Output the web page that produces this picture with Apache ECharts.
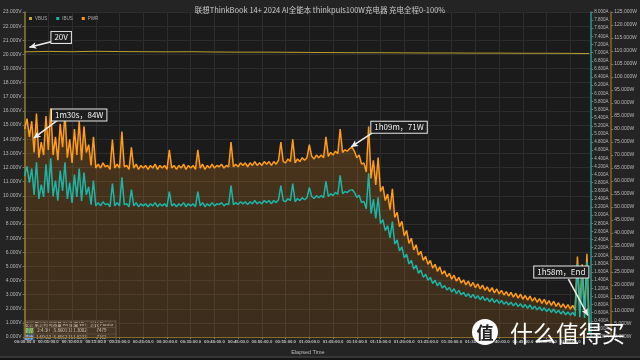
<!DOCTYPE html>
<html><head><meta charset="utf-8">
<script src="https://cdn.jsdelivr.net/npm/echarts@6/dist/echarts.min.js"></script>
<style>html,body{margin:0;padding:0;background:#232323}#c{width:640px;height:360px}</style>
</head><body><div id="c"></div><script>
// sampling step of the arrays below, in minutes
const STEP_MIN = 0.5;

const titleText = '联想ThinkBook 14+ 2024 AI全能本 thinkpuls100W充电器 充电全程0-100%';
const seriesNames = ['VBUS', 'IBUS', 'PWR'];

// PWR (W), one value every 0.5 min from 00:00
const pwrW = [
  80, 84, 77, 83, 71, 86, 69, 75, 70, 85,
  72, 88, 70, 77, 68, 82, 73, 86, 69, 76,
  67, 80, 70, 83, 68, 81, 71, 74, 66, 77,
  65, 66.5, 65, 67, 65.5, 66, 64.5, 76, 65, 66.5,
  65, 79, 65.5, 66, 64.5, 73, 65, 66.5, 64.5, 66,
  65, 66, 64.5, 66, 65, 66.5, 64.5, 66, 65, 66,
  64.5, 72, 65, 66, 64.5, 66, 65, 66.5, 64.5, 66,
  65, 66, 64.5, 72, 65, 66.5, 64.5, 66, 65, 66.5,
  65, 66, 65.5, 66.5, 65, 66, 65.5, 75, 65.5, 66.5,
  65.5, 67, 66, 67, 65.5, 67, 66, 67.5, 66, 67,
  66, 67.5, 66.5, 67.5, 66, 67.5, 66.5, 68, 75, 67.5,
  67, 68.5, 67.5, 76, 67, 68.5, 67.5, 69, 68, 69,
  74, 69.5, 68.5, 70, 69, 70, 69, 77, 69.5, 71,
  70, 71.5, 70.5, 80, 71, 72, 71.5, 72.5, 73, 71.5,
  69, 70, 66.5, 67, 63.5, 81, 61, 68, 58.5, 69,
  56, 58, 52.5, 55, 49, 57, 46, 48, 42.5, 44.5,
  39, 41, 36, 38, 33.5, 35.5, 31.5, 33, 29.5, 31,
  28, 29.5, 26.5, 28, 25.3, 27, 24.2, 25.5, 23.2, 24.5,
  22.3, 23.8, 21.5, 23, 20.8, 22, 20.1, 21.5, 19.5, 21,
  19, 20.5, 18.5, 20, 18, 19.3, 17.5, 19, 17, 18.5,
  16.6, 18, 16.2, 17.5, 15.8, 17.2, 15.4, 16.8, 15, 16.5,
  14.6, 16, 14.2, 15.8, 13.8, 15.2, 13.4, 14.8, 13, 14.5,
  12.6, 14, 12.2, 13.8, 11.8, 13.2, 11.4, 12.8, 11.1, 12.5,
  10.8, 12.2, 10.5, 31, 9.8, 28, 9.5, 32, 2
];

// IBUS (A), one value every 0.5 min from 00:00
const ibusA = [
  3.96, 4.20, 3.80, 4.15, 3.50, 4.30, 3.40, 3.75, 3.45, 4.25,
  3.55, 4.40, 3.46, 3.85, 3.36, 4.10, 3.60, 4.30, 3.40, 3.80,
  3.30, 4.00, 3.45, 4.15, 3.35, 4.05, 3.50, 3.70, 3.26, 3.85,
  3.23, 3.31, 3.23, 3.33, 3.26, 3.28, 3.21, 3.78, 3.23, 3.31,
  3.23, 3.93, 3.26, 3.28, 3.21, 3.63, 3.23, 3.31, 3.21, 3.28,
  3.23, 3.28, 3.21, 3.28, 3.23, 3.31, 3.21, 3.28, 3.23, 3.28,
  3.21, 3.58, 3.23, 3.28, 3.21, 3.28, 3.23, 3.31, 3.21, 3.28,
  3.23, 3.28, 3.21, 3.58, 3.23, 3.31, 3.21, 3.28, 3.23, 3.31,
  3.23, 3.28, 3.26, 3.31, 3.23, 3.28, 3.26, 3.73, 3.26, 3.31,
  3.26, 3.33, 3.28, 3.33, 3.26, 3.33, 3.28, 3.36, 3.28, 3.33,
  3.28, 3.36, 3.31, 3.36, 3.28, 3.36, 3.31, 3.38, 3.73, 3.36,
  3.33, 3.41, 3.36, 3.78, 3.33, 3.41, 3.36, 3.43, 3.38, 3.43,
  3.68, 3.46, 3.41, 3.48, 3.43, 3.48, 3.43, 3.83, 3.46, 3.53,
  3.48, 3.56, 3.51, 3.98, 3.53, 3.58, 3.56, 3.61, 3.63, 3.56,
  3.44, 3.49, 3.31, 3.34, 3.16, 4.03, 3.04, 3.39, 2.92, 3.44,
  2.79, 2.89, 2.62, 2.74, 2.44, 2.84, 2.29, 2.39, 2.12, 2.22,
  1.95, 2.04, 1.80, 1.89, 1.67, 1.77, 1.57, 1.65, 1.47, 1.55,
  1.40, 1.47, 1.32, 1.40, 1.26, 1.35, 1.21, 1.27, 1.16, 1.22,
  1.11, 1.19, 1.07, 1.15, 1.04, 1.10, 1.00, 1.07, 0.97, 1.05,
  0.95, 1.02, 0.92, 1.00, 0.90, 0.96, 0.87, 0.95, 0.85, 0.92,
  0.83, 0.90, 0.81, 0.87, 0.79, 0.86, 0.77, 0.84, 0.75, 0.82,
  0.73, 0.80, 0.71, 0.79, 0.69, 0.76, 0.67, 0.74, 0.65, 0.72,
  0.63, 0.70, 0.61, 0.69, 0.59, 0.66, 0.57, 0.64, 0.55, 0.62,
  0.54, 0.61, 0.52, 1.80, 0.49, 1.70, 0.47, 1.85, 0.10
];

// VBUS (V)
const vbusTimesMin = [0, 5, 10, 15, 20, 25, 30, 35, 40, 45, 50, 55, 60, 65, 70, 75, 80, 85, 90, 95, 100, 105, 110, 115, 119];
const vbusV = [20.18, 20.21, 20.19, 20.22, 20.2, 20.19, 20.18, 20.19, 20.17, 20.16, 20.16, 20.15, 20.14, 20.13, 20.12, 20.12, 20.11, 20.1, 20.1, 20.09, 20.09, 20.08, 20.08, 20.07, 20.06];

// axis ranges
const xMaxMin = 119.4, xIntervalMin = 5;
const vMax = 23, vInterval = 1;
const aMax = 8, aInterval = 0.2;
const wMax = 125, wInterval = 5;

// annotations
const annVbus = { text: '20V', at: [7.7, 21.2], from: [5.6, 20.9], to: [1.0, 20.5] };
const annPwr = [
  { text: '1m30s，84W', at: [11.5, 85.4], from: [6.9, 83.3], to: [1.9, 76.5] },
  { text: '1h09m，71W', at: [78.9, 80.7], from: [73.2, 78.4], to: [68.8, 73.1] },
  { text: '1h58m，End', at: [113.1, 25], from: [114.6, 22.3], to: [118.7, 8.3] }
];

// stats table
const tableHeader = ['统计', '累计时间', '容量 Ah', '能量 Wh', '计数 Points'];
const tableRows = [
  ['全部', '2:4:30', '5.8601', '101.3002', '7479'],
  ['选中', '1:59:20', '5.8562', '101.8233', '7162']
];

const pwrData = pwrW.map((v, i) => [i * STEP_MIN, v]);
const ibusData = ibusA.map((v, i) => [i * STEP_MIN, v]);
const vbusData = vbusV.map((v, i) => [vbusTimesMin[i], v]);

function pad(n) { return (n < 10 ? '0' : '') + n; }
function fmtTime(v) {
  const s = Math.round(v * 60);
  return pad(Math.floor(s / 3600)) + ':' + pad(Math.floor(s / 60) % 60) + ':' + pad(s % 60) + '.0';
}

const boxLabel = {
  show: true, position: 'inside', color: '#f2f2f2', fontSize: 8,
  fontFamily: 'Noto Sans CJK SC',
  backgroundColor: '#1e1e1e', borderColor: '#e8e8e8', borderWidth: 1, padding: [2, 3, 1, 3]
};
function markPts(list) {
  return { silent: true, symbol: 'rect', symbolSize: 1, itemStyle: { color: 'rgba(0,0,0,0)' },
    label: boxLabel, data: list.map(a => ({ coord: a.at, value: a.text, label: { formatter: a.text } })) };
}
function markArrows(list) {
  return { silent: true, symbol: ['none', 'arrow'], symbolSize: [5, 7], animation: false,
    lineStyle: { color: '#f0f0f0', width: 1.5, type: 'solid' }, label: { show: false },
    data: list.map(a => [{ coord: a.from }, { coord: a.to }]) };
}

const axisLabelBase = { color: '#b8b8b8', fontSize: 5, fontFamily: 'Liberation Sans' };

// table graphic
const tableCols = [24, 34, 53, 68, 87, 116];
const tableTop = 321, rowH = 6.5;
const tableEls = [];
tableEls.push({ type: 'rect', shape: { x: tableCols[0], y: tableTop, width: tableCols[5] - tableCols[0], height: rowH * 3 }, style: { fill: '#262626', stroke: '#555', lineWidth: 0.6 } });
[tableHeader].concat(tableRows).forEach((row, r) => {
  row.forEach((cell, c) => {
    const x0 = tableCols[c], x1 = tableCols[c + 1];
    if (r > 0 && c === 0) {
      tableEls.push({ type: 'rect', shape: { x: x0 + 0.5, y: tableTop + r * rowH + 0.5, width: x1 - x0 - 1, height: rowH - 1 }, style: { fill: r === 1 ? '#2e9a3c' : '#2f73c4' } });
    }
    tableEls.push({ type: 'text', x: (x0 + x1) / 2, y: tableTop + r * rowH + rowH / 2,
      style: { text: cell, fill: '#d0d0d0', fontSize: 4.5, align: 'center', verticalAlign: 'middle', fontFamily: 'Noto Sans CJK SC' } });
  });
  tableEls.push({ type: 'line', shape: { x1: tableCols[0], y1: tableTop + r * rowH, x2: tableCols[5], y2: tableTop + r * rowH }, style: { stroke: '#555', lineWidth: 0.5 } });
});
tableCols.forEach(x => tableEls.push({ type: 'line', shape: { x1: x, y1: tableTop, x2: x, y2: tableTop + rowH * 3 }, style: { stroke: '#555', lineWidth: 0.5 } }));

const chart = echarts.init(document.getElementById('c'), null, { renderer: 'canvas' });
chart.setOption({
  animation: false,
  backgroundColor: '#242424',
  title: { text: titleText, left: 'center', top: 1, textStyle: { color: '#c8c8c8', fontSize: 7.5, fontWeight: 'normal', fontFamily: 'Noto Sans CJK SC' } },
  legend: {
    data: seriesNames, left: 24, top: 11, icon: 'rect', itemWidth: 3, itemHeight: 3, itemGap: 9,
    textStyle: { color: '#aaa', fontSize: 4.5, fontFamily: 'Liberation Sans', padding: [0, 0, 0, -2] }
  },
  grid: { left: 22, right: 41, top: 12, bottom: 19, show: true, backgroundColor: '#1b1b1b', borderWidth: 0 },
  xAxis: {
    type: 'value', min: 0, max: xMaxMin, interval: xIntervalMin,
    axisLine: { show: true, onZero: false, lineStyle: { color: '#8a6a2a', width: 1 } },
    axisTick: { show: true, length: 2, lineStyle: { color: '#777' } },
    axisLabel: { color: '#c0c0c0', fontSize: 4.3, fontFamily: 'Liberation Sans Narrow, Liberation Sans', fontWeight: 'bold',
      margin: 3, showMaxLabel: false, hideOverlap: false, formatter: fmtTime },
    splitLine: { show: true, lineStyle: { color: '#2d2d2d', width: 1 } },
    name: 'Elapsed Time', nameLocation: 'middle', nameGap: 10,
    nameTextStyle: { color: '#bbb', fontSize: 5.5, fontFamily: 'Liberation Sans' }
  },
  yAxis: [
    { type: 'value', position: 'left', min: 0, max: vMax, interval: vInterval,
      axisLine: { show: true, lineStyle: { color: '#8d7e2c', width: 1.5 } },
      axisTick: { show: true, length: 2, lineStyle: { color: '#777' } },
      axisLabel: Object.assign({}, axisLabelBase, { margin: 3, formatter: v => v.toFixed(3) + 'V' }),
      splitLine: { show: true, lineStyle: { color: '#2d2d2d', width: 1 } } },
    { type: 'value', position: 'right', offset: 0, min: 0, max: aMax, interval: aInterval,
      axisLine: { show: true, lineStyle: { color: '#1f9c90', width: 1.5 } },
      axisTick: { show: true, length: 2, lineStyle: { color: '#777' } },
      axisLabel: Object.assign({}, axisLabelBase, { margin: 3, fontSize: 4.5, formatter: v => v.toFixed(3) + 'A' }),
      splitLine: { show: false } },
    { type: 'value', position: 'right', offset: 20, min: 0, max: wMax, interval: wInterval,
      axisLine: { show: true, lineStyle: { color: '#8a6426', width: 1.5 } },
      axisTick: { show: true, length: 2, lineStyle: { color: '#777' } },
      axisLabel: Object.assign({}, axisLabelBase, { margin: 3, formatter: v => v.toFixed(3) + 'W' }),
      splitLine: { show: false } }
  ],
  series: [
    { name: 'PWR', type: 'line', yAxisIndex: 2, data: pwrData, symbol: 'none', z: 2,
      color: '#ff9c1a', lineStyle: { color: '#ff9c1a', width: 1.5 },
      areaStyle: { color: new echarts.graphic.LinearGradient(0, 0, 0, 1, [
        { offset: 0, color: 'rgba(255,150,30,0.30)' }, { offset: 1, color: 'rgba(255,150,30,0.20)' }]) },
      markPoint: markPts(annPwr), markLine: markArrows(annPwr) },
    { name: 'IBUS', type: 'line', yAxisIndex: 1, data: ibusData, symbol: 'none', z: 3,
      color: '#1db5a6', lineStyle: { color: '#1db5a6', width: 1.5 } },
    { name: 'VBUS', type: 'line', yAxisIndex: 0, data: vbusData, symbol: 'none', z: 4,
      color: '#c2aa2e', lineStyle: { color: '#b9a22c', width: 1 },
      markPoint: markPts([annVbus]), markLine: markArrows([annVbus]) }
  ],
  graphic: tableEls.concat([
    { type: 'line', shape: { x1: 0, y1: 357, x2: 640, y2: 357 }, style: { stroke: '#4a4a4a', lineWidth: 1 } },
    { type: 'rect', shape: { x: 0, y: 358, width: 640, height: 2 }, style: { fill: '#141414' } },
    { type: 'circle', shape: { cx: 485, cy: 332, r: 13 }, style: { fill: '#ffffff' }, z: 100 },
    { type: 'text', x: 485, y: 333, z: 101, style: { text: '值', fill: '#222', fontSize: 17, fontWeight: 'bold', align: 'center', verticalAlign: 'middle', fontFamily: 'Noto Sans CJK SC' } },
    { type: 'text', x: 510, y: 333, z: 100, style: { text: '什么值得买', fill: '#ffffff', fontSize: 23, align: 'left', verticalAlign: 'middle', fontFamily: 'Noto Sans CJK SC' } }
  ])
});
</script></body></html>
